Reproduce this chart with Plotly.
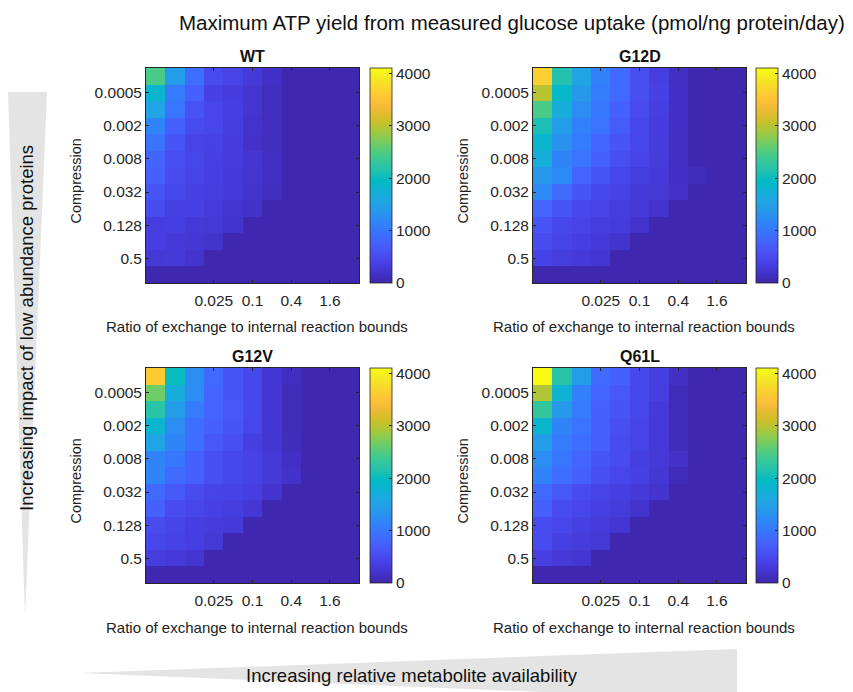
import plotly.graph_objects as go

# ---------------- data ----------------
x_tick_vals = [3, 5, 7, 9]
x_tick_text = ["0.025", "0.1", "0.4", "1.6"]
y_tick_vals = [1, 3, 5, 7, 9, 11]
y_tick_text = ["0.0005", "0.002", "0.008", "0.032", "0.128", "0.5"]
n_cols = 11
n_rows = 13

panel_names = ["WT", "G12D", "G12V", "Q61L"]

wt = [
    [2450, 1450, 900, 500, 420, 300, 170, 40, 40, 40, 40],
    [1850, 1050, 750, 380, 330, 230, 130, 40, 40, 40, 40],
    [1550, 980, 600, 450, 350, 240, 130, 40, 40, 40, 40],
    [1150, 750, 500, 450, 340, 200, 130, 40, 40, 40, 40],
    [950, 620, 420, 400, 320, 180, 130, 40, 40, 40, 40],
    [800, 550, 450, 360, 320, 250, 150, 40, 40, 40, 40],
    [750, 520, 430, 350, 290, 240, 150, 40, 40, 40, 40],
    [620, 470, 360, 340, 290, 210, 130, 40, 40, 40, 40],
    [520, 360, 390, 310, 240, 190, 40, 40, 40, 40, 40],
    [340, 350, 300, 280, 210, 40, 40, 40, 40, 40, 40],
    [350, 300, 260, 220, 40, 40, 40, 40, 40, 40, 40],
    [280, 290, 220, 40, 40, 40, 40, 40, 40, 40, 40],
    [40, 40, 40, 40, 40, 40, 40, 40, 40, 40, 40],
]

g12d = [
    [3650, 2150, 1550, 1100, 850, 550, 350, 150, 40, 40, 40],
    [3000, 1900, 1400, 1050, 850, 550, 380, 170, 40, 40, 40],
    [2450, 1700, 1250, 1000, 750, 500, 350, 170, 40, 40, 40],
    [2100, 1450, 1100, 950, 700, 470, 330, 170, 40, 40, 40],
    [1850, 1300, 1050, 800, 620, 450, 330, 150, 40, 40, 40],
    [1700, 1150, 950, 750, 550, 420, 320, 150, 40, 40, 40],
    [1400, 1200, 800, 620, 470, 340, 300, 170, 90, 40, 40],
    [1200, 850, 620, 470, 400, 300, 280, 180, 40, 40, 40],
    [800, 620, 470, 420, 340, 290, 210, 40, 40, 40, 40],
    [620, 470, 420, 340, 310, 210, 40, 40, 40, 40, 40],
    [500, 420, 350, 290, 220, 40, 40, 40, 40, 40, 40],
    [400, 340, 300, 250, 40, 40, 40, 40, 40, 40, 40],
    [40, 40, 40, 40, 40, 40, 40, 40, 40, 40, 40],
]

g12v = [
    [3600, 2000, 1250, 850, 620, 470, 250, 120, 40, 40, 40],
    [2650, 1700, 1250, 800, 620, 470, 250, 100, 40, 40, 40],
    [2200, 1450, 1050, 800, 650, 470, 250, 100, 40, 40, 40],
    [1850, 1250, 900, 750, 620, 450, 250, 100, 40, 40, 40],
    [1550, 1150, 900, 650, 550, 350, 250, 110, 40, 40, 40],
    [1150, 1000, 750, 550, 470, 400, 290, 170, 40, 40, 40],
    [1150, 850, 750, 550, 470, 400, 290, 190, 40, 40, 40],
    [850, 680, 500, 420, 400, 350, 220, 40, 40, 40, 40],
    [750, 520, 450, 390, 340, 260, 40, 40, 40, 40, 40],
    [520, 430, 350, 320, 290, 40, 40, 40, 40, 40, 40],
    [450, 400, 350, 280, 40, 40, 40, 40, 40, 40, 40],
    [340, 300, 250, 40, 40, 40, 40, 40, 40, 40, 40],
    [40, 40, 40, 40, 40, 40, 40, 40, 40, 40, 40],
]

q61l = [
    [4100, 2200, 1450, 850, 750, 470, 350, 150, 40, 40, 40],
    [2950, 1800, 1100, 800, 650, 470, 350, 100, 40, 40, 40],
    [2300, 1400, 1050, 750, 620, 450, 300, 100, 40, 40, 40],
    [1850, 1150, 950, 750, 550, 420, 300, 100, 40, 40, 40],
    [1450, 1050, 900, 720, 520, 420, 290, 110, 40, 40, 40],
    [1250, 980, 800, 620, 500, 350, 290, 180, 40, 40, 40],
    [1150, 900, 750, 550, 450, 390, 260, 100, 40, 40, 40],
    [850, 650, 500, 420, 350, 300, 220, 40, 40, 40, 40],
    [750, 520, 450, 360, 320, 210, 40, 40, 40, 40, 40],
    [520, 450, 360, 320, 250, 40, 40, 40, 40, 40, 40],
    [500, 360, 320, 280, 40, 40, 40, 40, 40, 40, 40],
    [370, 300, 250, 40, 40, 40, 40, 40, 40, 40, 40],
    [40, 40, 40, 40, 40, 40, 40, 40, 40, 40, 40],
]

panel_data = [wt, g12d, g12v, q61l]
cbar_ticks = [0, 1000, 2000, 3000, 4000]
z_min, z_max = 0, 4100

# ---------------- style ----------------
PAGE_MARGIN = 8          # default browser body margin
W, H = 853 - PAGE_MARGIN, 692 - PAGE_MARGIN
FONT = "Liberation Sans, Arial, Helvetica, sans-serif"
AXIS_COLOR = "#262626"

parula = [
    (0.2422, 0.1504, 0.6603), (0.2647, 0.1978, 0.7952), (0.2783, 0.2559, 0.8991),
    (0.2810, 0.3228, 0.9579), (0.2699, 0.3892, 0.9906), (0.2206, 0.4603, 0.9973),
    (0.1786, 0.5289, 0.9682), (0.1540, 0.5902, 0.9218), (0.1248, 0.6459, 0.8883),
    (0.0689, 0.6948, 0.8394), (0.0067, 0.7312, 0.7660), (0.1408, 0.7584, 0.6842),
    (0.2161, 0.7843, 0.5923), (0.3406, 0.8008, 0.4789), (0.5044, 0.7993, 0.3480),
    (0.6720, 0.7793, 0.2227), (0.8203, 0.7498, 0.1535), (0.9393, 0.7288, 0.2100),
    (0.9970, 0.7659, 0.2199), (0.9786, 0.8386, 0.1766), (0.9597, 0.9135, 0.1423),
    (0.9769, 0.9839, 0.0805),
]
colorscale = [
    [i / (len(parula) - 1), "rgb(%d,%d,%d)" % tuple(round(c * 255) for c in rgb)]
    for i, rgb in enumerate(parula)
]

# screen pixel -> paper coordinates (accounting for page margin)
def px_x(x):
    return (x - PAGE_MARGIN) / W

def px_y(y):
    return 1 - (y - PAGE_MARGIN) / H

# panel pixel boxes on screen: (left, right, top, bottom, colorbar left)
panels_px = [
    (146, 359, 68, 283, 370),
    (533, 746, 68, 283, 756),
    (146, 359, 368, 583, 370),
    (533, 746, 368, 583, 756),
]

fig = go.Figure()
layout_axes = {}
annotations = []
tick_font = dict(family=FONT, size=15.5, color="#262626")

for i, (name, z, box) in enumerate(zip(panel_names, panel_data, panels_px)):
    l, r, t, b, cbx = box
    xa = "x" if i == 0 else "x%d" % (i + 1)
    ya = "y" if i == 0 else "y%d" % (i + 1)
    fig.add_trace(go.Heatmap(
        z=z,
        x=list(range(n_cols)),
        y=list(range(n_rows)),
        xaxis=xa, yaxis=ya,
        colorscale=colorscale, zmin=z_min, zmax=z_max,
        colorbar=dict(
            x=px_x(cbx), xanchor="left", xpad=0, ypad=0,
            y=px_y((t + b) / 2), yanchor="middle",
            len=(b - t) / H, lenmode="fraction",
            thickness=22, thicknessmode="pixels",
            tickvals=cbar_ticks, ticks="inside", ticklen=3,
            tickcolor=AXIS_COLOR, outlinewidth=0.8, outlinecolor=AXIS_COLOR,
            tickfont=tick_font,
        ),
    ))
    xkey = "xaxis" if i == 0 else "xaxis%d" % (i + 1)
    ykey = "yaxis" if i == 0 else "yaxis%d" % (i + 1)
    layout_axes[xkey] = dict(
        domain=[px_x(l), px_x(r)], anchor=ya,
        range=[-0.5, n_cols - 0.5],
        tickvals=x_tick_vals, ticktext=x_tick_text,
        ticks="inside", ticklen=3, tickcolor=AXIS_COLOR,
        showline=True, linecolor=AXIS_COLOR, linewidth=0.8, mirror="ticks",
        showgrid=False, zeroline=False, ticklabelstandoff=3,
        tickfont=tick_font,
    )
    layout_axes[ykey] = dict(
        domain=[px_y(b), px_y(t)], anchor=xa,
        range=[n_rows - 0.5, -0.5],
        tickvals=y_tick_vals, ticktext=y_tick_text,
        ticks="inside", ticklen=3, tickcolor=AXIS_COLOR,
        showline=True, linecolor=AXIS_COLOR, linewidth=0.8, mirror="ticks",
        showgrid=False, zeroline=False,
        tickfont=tick_font,
    )
    cx = (l + r) / 2
    annotations.append(dict(
        text="<b>%s</b>" % name, x=px_x(cx), y=px_y(t - 12),
        xref="paper", yref="paper", showarrow=False,
        xanchor="center", yanchor="middle",
        font=dict(family=FONT, size=16, color="#111"),
    ))
    annotations.append(dict(
        text="Ratio of exchange to internal reaction bounds",
        x=px_x(cx + 4), y=px_y(b + 44),
        xref="paper", yref="paper", showarrow=False,
        xanchor="center", yanchor="middle",
        font=dict(family=FONT, size=15, color="#222"),
    ))
    annotations.append(dict(
        text="Compression", textangle=-90,
        x=px_x(l - 71), y=px_y((t + b) / 2 + 6),
        xref="paper", yref="paper", showarrow=False,
        xanchor="center", yanchor="middle",
        font=dict(family=FONT, size=14.5, color="#222"),
    ))

# main title
annotations.append(dict(
    text="Maximum ATP yield from measured glucose uptake (pmol/ng protein/day)",
    x=px_x(512), y=px_y(22), xref="paper", yref="paper", showarrow=False,
    xanchor="center", yanchor="middle",
    font=dict(family=FONT, size=20.5, color="#111"),
))
# wedge labels
annotations.append(dict(
    text="Increasing impact of low abundance proteins", textangle=-90,
    x=px_x(26), y=px_y(328), xref="paper", yref="paper", showarrow=False,
    xanchor="center", yanchor="middle",
    font=dict(family=FONT, size=18.5, color="#111"),
))
annotations.append(dict(
    text="Increasing relative metabolite availability",
    x=px_x(412), y=px_y(675), xref="paper", yref="paper", showarrow=False,
    xanchor="center", yanchor="middle",
    font=dict(family=FONT, size=18.5, color="#111"),
))

def tri_path(pts):
    return "M " + " L ".join("%f,%f" % (px_x(a), px_y(b)) for a, b in pts) + " Z"

shapes = [
    dict(type="path", xref="paper", yref="paper", layer="below",
         path=tri_path([(8, 92), (47, 92), (25, 617)]),
         fillcolor="#e4e4e4", line=dict(width=0)),
    dict(type="path", xref="paper", yref="paper", layer="below",
         path=tri_path([(80, 673), (737, 649), (737, 700)]),
         fillcolor="#e4e4e4", line=dict(width=0)),
]

fig.update_layout(
    width=W, height=H,
    margin=dict(l=0, r=0, t=0, b=0),
    paper_bgcolor="white", plot_bgcolor="white",
    annotations=annotations, shapes=shapes,
    font=dict(family=FONT),
    **layout_axes,
)

fig.write_html("out.html")
